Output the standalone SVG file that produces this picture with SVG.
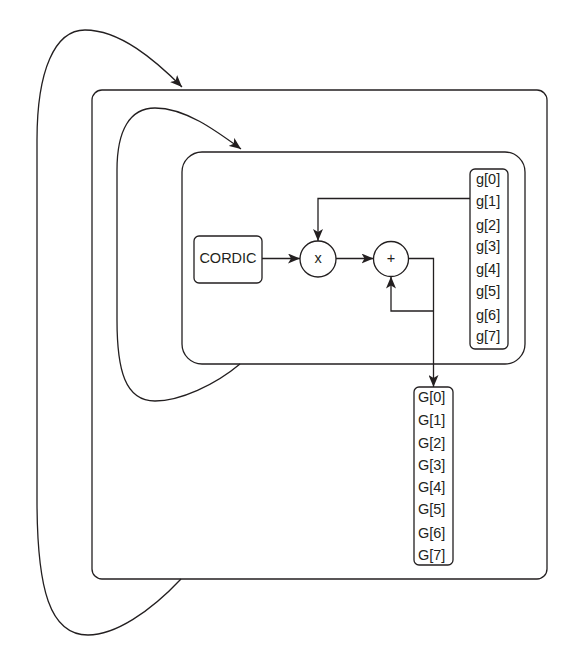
<svg xmlns="http://www.w3.org/2000/svg" width="581" height="653" viewBox="0 0 581 653">
<defs>
<style>
.s{fill:none;stroke:#231f20;stroke-width:1.3}
.b{fill:#fff;stroke:#231f20;stroke-width:1.3}
.t{font-family:"Liberation Sans",Arial,sans-serif;font-size:14.5px;fill:#231f20}
</style>
<marker id="a" viewBox="0 0 12 10" refX="12" refY="5" markerWidth="12" markerHeight="10" markerUnits="userSpaceOnUse" orient="auto">
<path d="M0,0 L12,5 L0,10 L3,5 Z" fill="#231f20"/>
</marker>
</defs>
<rect width="581" height="653" fill="#fff"/>
<g id="outer"><rect class="b" x="92" y="90" width="455" height="489" rx="10"/></g>
<g id="inner"><rect class="b" x="182" y="152" width="343" height="212" rx="20"/></g>
<g id="cordic"><rect class="b" x="194" y="236" width="68" height="47" rx="5"/><text class="t" x="228" y="263" text-anchor="middle" font-size="12.5">CORDIC</text></g>
<g id="mul"><circle class="b" cx="318" cy="259" r="18"/><text class="t" x="318" y="263" text-anchor="middle" font-size="12">x</text></g>
<g id="add"><circle class="b" cx="391" cy="259" r="17.5"/><text class="t" x="391" y="263" text-anchor="middle" font-size="12">+</text></g>
<g id="gmem"><rect class="b" x="470" y="169" width="38" height="180" rx="5"/>
<text class="t" x="476" y="184">g[0]</text>
<text class="t" x="476" y="206">g[1]</text>
<text class="t" x="476" y="230">g[2]</text>
<text class="t" x="476" y="251">g[3]</text>
<text class="t" x="476" y="274">g[4]</text>
<text class="t" x="476" y="296">g[5]</text>
<text class="t" x="476" y="320">g[6]</text>
<text class="t" x="476" y="341">g[7]</text>
</g>
<g id="Gmem"><rect class="b" x="414" y="387" width="39" height="178" rx="5"/>
<text class="t" x="418" y="402">G[0]</text>
<text class="t" x="418" y="425">G[1]</text>
<text class="t" x="418" y="448">G[2]</text>
<text class="t" x="418" y="470">G[3]</text>
<text class="t" x="418" y="492">G[4]</text>
<text class="t" x="418" y="514">G[5]</text>
<text class="t" x="418" y="538">G[6]</text>
<text class="t" x="418" y="560">G[7]</text>
</g>
<g id="connectors">
<path class="s" d="M262,258.5 L300,258.5" marker-end="url(#a)"/>
<path class="s" d="M336,258.5 L373.5,258.5" marker-end="url(#a)"/>
<path class="s" d="M470,198.5 L318,198.5 L318,241" marker-end="url(#a)"/>
<path class="s" d="M408.5,258.5 L433.5,258.5 L433.5,387" marker-end="url(#a)"/>
<path class="s" d="M433.5,311 L391,311 L391,276.5" marker-end="url(#a)"/>
<path class="s" d="M240,364 C215,385 180,401 155,401 C125,401 117,370 117,320 L117,170 C117,130 130,108 155,108 C185,108 215,130 241,149" marker-end="url(#a)"/>
<path class="s" d="M181,579 C150,612 115,635 88,635 C50,635 37,590 37,500 L37,140 C37,70 55,30 85,30 C120,30 155,60 182,87" marker-end="url(#a)"/>
</g>
</svg>
